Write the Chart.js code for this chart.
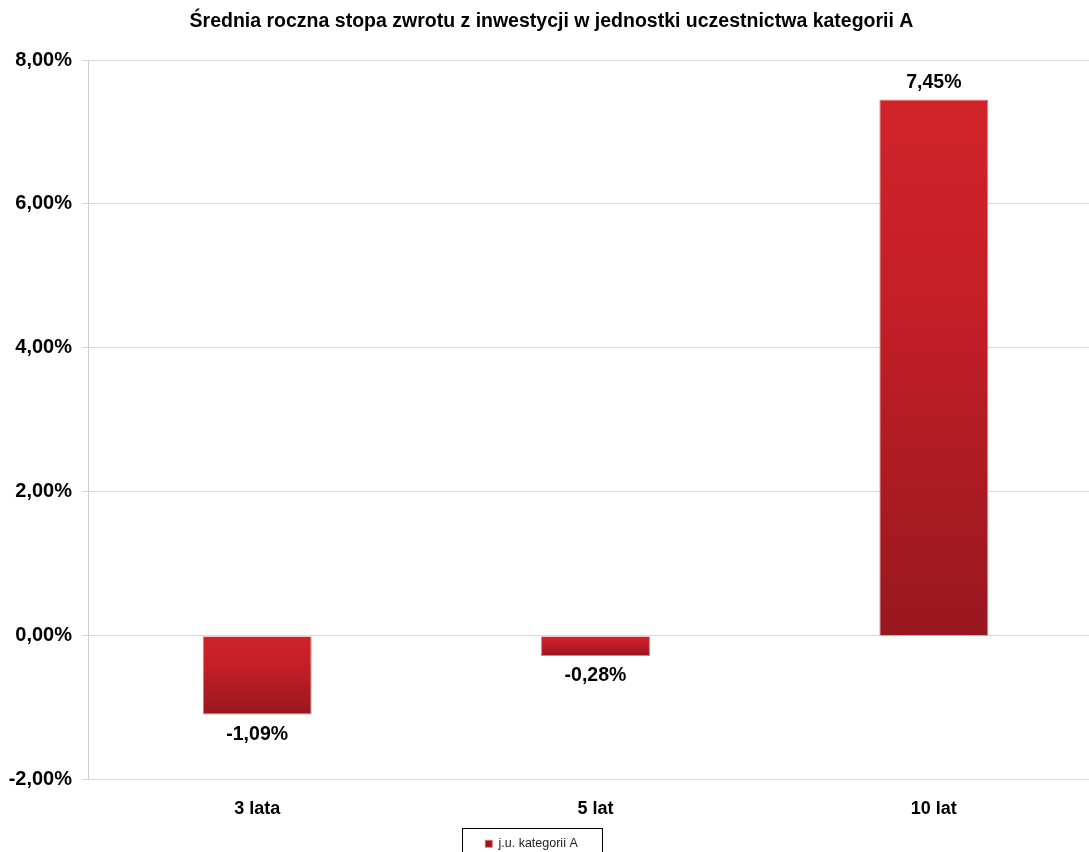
<!DOCTYPE html>
<html lang="pl">
<head>
  <meta charset="UTF-8">
  <title>Średnia roczna stopa zwrotu</title>
  <script src="https://cdn.jsdelivr.net/npm/chart.js"></script>
  <style>
    body {
      margin: 0;
      padding: 0;
      background-color: #ffffff;
      overflow: hidden;
    }
    #wrap {
      width: 1103px;
      height: 852px;
    }
  </style>
</head>
<body>
  <div id="wrap"><canvas id="chart"></canvas></div>

  <script>
    const TITLE = "Średnia roczna stopa zwrotu z inwestycji w jednostki uczestnictwa kategorii A";
    const categories = ["3 lata", "5 lat", "10 lat"];
    const seriesName = "j.u. kategorii A";
    const returns = [-1.09, -0.28, 7.45];
    const yTicks = [-2, 0, 2, 4, 6, 8];

    const fmt = v => v.toFixed(2).replace(".", ",") + "%";
    const FONT = "'Liberation Sans', Arial, sans-serif";

    // gradient per bar: light red at the top edge, darker at the bottom edge
    function barFill(ctx) {
      const chart = ctx.chart;
      if (ctx.type !== "data" || !chart.chartArea) return "#b81e25";
      const y = chart.scales.y;
      const v = ctx.dataset.data[ctx.dataIndex];
      const p0 = y.getPixelForValue(0);
      const p1 = y.getPixelForValue(v);
      const top = Math.min(p0, p1), bottom = Math.max(p0, p1);
      const g = chart.ctx.createLinearGradient(0, top, 0, bottom);
      g.addColorStop(0, "#d1232a");
      g.addColorStop(0.35, "#c61f27");
      g.addColorStop(1, "#98171f");
      return g;
    }

    // value labels above / below bars
    const valueLabels = {
      id: "valueLabels",
      afterDatasetsDraw(chart) {
        const ctx = chart.ctx;
        const meta = chart.getDatasetMeta(0);
        ctx.save();
        ctx.font = "bold 19.5px " + FONT;
        ctx.fillStyle = "#000";
        ctx.textAlign = "center";
        ctx.textBaseline = "middle";
        meta.data.forEach((bar, i) => {
          const v = returns[i];
          const y = v >= 0 ? bar.y - 17 : bar.y + 20;
          ctx.fillText(fmt(v), bar.x, y);
        });
        ctx.restore();
      }
    };

    // legend sits a bit left of centre, with a thin frame around it
    const legendFrame = {
      id: "legendFrame",
      afterLayout(chart) {
        const lg = chart.legend;
        if (!lg) return;
        lg.left -= 20;
        lg.right -= 20;
      },
      afterDraw(chart) {
        const lg = chart.legend;
        if (!lg || !lg.legendHitBoxes.length) return;
        const hb = lg.legendHitBoxes[0];
        const ctx = chart.ctx;
        ctx.save();
        ctx.strokeStyle = "#000";
        ctx.lineWidth = 1;
        const cx = hb.left + hb.width / 2;
        ctx.strokeRect(Math.round(cx - 70) + 0.5, Math.round(hb.top - 10) + 0.5, 140, 40);
        ctx.restore();
      }
    };

    new Chart(document.getElementById("chart"), {
      type: "bar",
      data: {
        labels: categories,
        datasets: [{
          label: seriesName,
          data: returns,
          backgroundColor: barFill,
          borderColor: "rgba(225, 110, 110, 0.9)",
          borderWidth: 1,
          barPercentage: 0.322,
          categoryPercentage: 1
        }]
      },
      options: {
        responsive: true,
        maintainAspectRatio: false,
        animation: false,
        layout: { padding: { left: 0, right: 0, top: 0, bottom: -8 } },
        plugins: {
          title: {
            display: true,
            text: TITLE,
            color: "#000",
            font: { family: FONT, size: 19.5, weight: "bold" },
            padding: { top: 10, bottom: 26.6 }
          },
          legend: {
            display: true,
            position: "bottom",
            labels: {
              color: "#222",
              font: { family: FONT, size: 12.5 },
              boxWidth: 7,
              boxHeight: 7,
              padding: 6
            }
          },
          tooltip: { enabled: false }
        },
        scales: {
          x: {
            grid: { display: false, drawTicks: false },
            border: { display: false },
            afterFit: axis => { axis.height -= 6; },
            ticks: {
              color: "#000",
              font: { family: FONT, size: 18, weight: "bold" },
              padding: 18
            }
          },
          y: {
            min: -2,
            max: 8,
            afterBuildTicks: axis => { axis.ticks = yTicks.map(v => ({ value: v })); },
            afterFit: axis => { axis.width = 88; },
            grid: { color: "#d9d9d9", tickLength: 6, drawTicks: true },
            border: { display: true, color: "#d0d0d0" },
            ticks: {
              color: "#000",
              font: { family: FONT, size: 20, weight: "bold" },
              padding: 10,
              callback: v => fmt(v)
            }
          }
        }
      },
      plugins: [valueLabels, legendFrame]
    });
  </script>
</body>
</html>
